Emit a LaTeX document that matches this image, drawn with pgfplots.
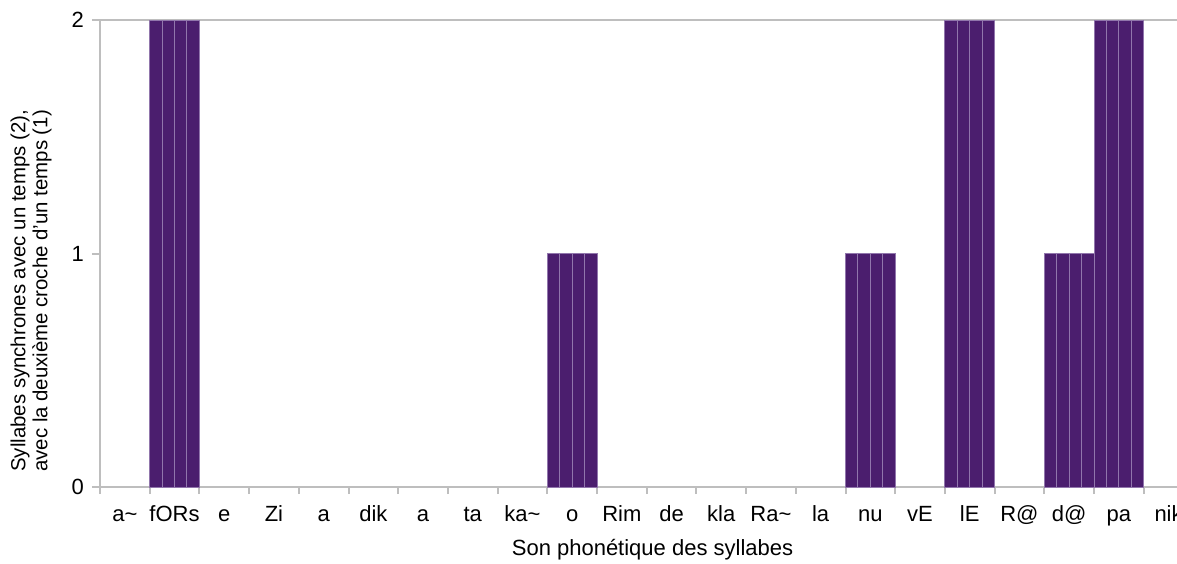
\documentclass[border=0pt]{standalone}
\usepackage{pgfplots}
\pgfplotsset{compat=1.18}
\usepackage{fontspec}
\setmainfont{Liberation Sans}
\definecolor{barfill}{RGB}{75,30,110}
\definecolor{baredge}{RGB}{145,118,172}
\definecolor{axgray}{RGB}{190,190,190}
\begin{document}
\begin{tikzpicture}
\begin{axis}[name=ax, scale only axis, width=538.5pt, height=233.5pt,
  xmin=-0.5, xmax=21.17, ymin=0, ymax=2,
  axis x line*=bottom, axis y line*=left,
  axis line style={draw=axgray, line width=1pt},
  ybar=0pt,
  tick label style={font=\fontsize{11}{12}\selectfont},
  /pgf/number format/assume math mode=true,
  ytick={0,1,2},
  yticklabel style={xshift=-0.5pt},
  tick align=outside,
  major tick length=4pt,
  minor tick length=3.5pt,
  tick style={draw=axgray, line width=1pt},
  xtick={0,...,21},
  major x tick style={draw=none},
  minor xtick={-0.5,0.5,...,20.5},
  xticklabels={a\textasciitilde, fORs, e, Zi, a, dik, a, ta, ka\textasciitilde, o, Rim, de, kla, Ra\textasciitilde, la, nu, vE, lE, R@, d@, pa, nik},
  xticklabel style={text height=8pt, text depth=2pt, yshift=-1.5pt},
  extra y ticks={2}, extra y tick labels={},
  extra y tick style={grid=major, major grid style={draw=axgray, line width=1pt}, major tick length=0pt},
  xlabel={Son phonétique des syllabes},
  xlabel style={font=\fontsize{11}{12}\selectfont, at={(axis description cs:0.513,-0.135)}, anchor=center},
  ylabel={Syllabes synchrones avec un temps (2),\\avec la deuxième croche d'un temps (1)},
  ylabel style={font=\fontsize{10.2}{11}\selectfont, at={(axis description cs:-0.064,0.42)}, anchor=center, align=center},
]
\addplot[ybar, bar width=0.25, fill=barfill, draw=baredge, line width=0.5pt] coordinates {(1,2) (9,1) (15,1) (17,2) (19,1) (20,2)};
\addplot[ybar, bar width=0.25, fill=barfill, draw=baredge, line width=0.5pt] coordinates {(1,2) (9,1) (15,1) (17,2) (19,1) (20,2)};
\addplot[ybar, bar width=0.25, fill=barfill, draw=baredge, line width=0.5pt] coordinates {(1,2) (9,1) (15,1) (17,2) (19,1) (20,2)};
\addplot[ybar, bar width=0.25, fill=barfill, draw=baredge, line width=0.5pt] coordinates {(1,2) (9,1) (15,1) (17,2) (19,1) (20,2)};
\end{axis}
\pgfresetboundingbox
\path[use as bounding box] ([xshift=-50pt,yshift=-38pt]ax.south west) rectangle ([yshift=10pt]ax.north east);
\end{tikzpicture}
\end{document}
